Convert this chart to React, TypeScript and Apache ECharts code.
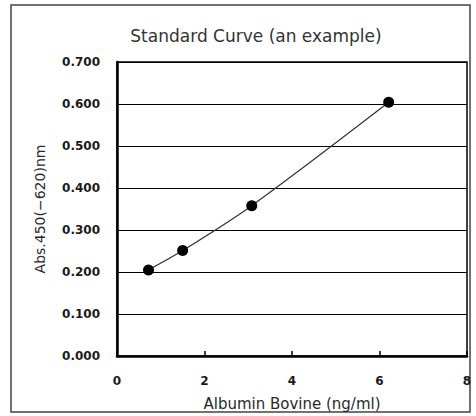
import React, { useEffect, useRef } from "react";
import * as echarts from "echarts";

const concentrations = [0.72, 1.5, 3.08, 6.21];
const absorbance = [0.205, 0.251, 0.358, 0.604];
const titleText = "Standard Curve (an example)";
const xName = "Albumin Bovine (ng/ml)";
const yName = "Abs.450(\u2212620)nm";

const FONT = "'DejaVu Sans', Verdana, sans-serif";

export default function App() {
  const ref = useRef<HTMLDivElement>(null);
  useEffect(() => {
    document.body.style.margin = "0";
    const chart = echarts.init(ref.current!, null, { renderer: "svg" });
    chart.setOption({
      animation: false,
      backgroundColor: "#ffffff",
      title: {
        text: titleText,
        left: 251,
        top: 22,
        textAlign: "center",
        textStyle: { fontFamily: FONT, fontSize: 17, fontWeight: "normal", color: "#333" },
      },
      graphic: [
        {
          type: "rect",
          shape: { x: 11, y: 5, width: 459, height: 407 },
          style: { fill: "none", stroke: "#444", lineWidth: 1.5 },
          silent: true,
        },
      ],
      grid: {
        left: 117,
        right: 9,
        top: 62,
        bottom: 59,
        show: true,
        borderColor: "#000",
        borderWidth: 1.5,
        backgroundColor: "transparent",
      },
      xAxis: {
        type: "value",
        min: 0,
        max: 8,
        interval: 2,
        name: xName,
        nameLocation: "middle",
        nameGap: 40,
        nameTextStyle: { fontFamily: FONT, fontSize: 15, color: "#2a2a2a" },
        axisLine: { show: true, onZero: false, lineStyle: { color: "#000", width: 2.5 } },
        axisTick: { show: true, inside: true, length: 5, lineStyle: { color: "#000", width: 1.5 } },
        axisLabel: { margin: 19, fontFamily: FONT, fontSize: 12, fontWeight: "bold", color: "#1a1a1a" },
        splitLine: { show: false },
      },
      yAxis: {
        type: "value",
        min: 0,
        max: 0.7,
        interval: 0.1,
        name: yName,
        nameLocation: "middle",
        nameGap: 70,
        nameRotate: 90,
        nameTextStyle: { fontFamily: FONT, fontSize: 14, color: "#2a2a2a" },
        axisLine: { show: true, lineStyle: { color: "#000", width: 2.5 } },
        axisTick: { show: false },
        axisLabel: {
          margin: 17,
          fontFamily: FONT,
          fontSize: 12,
          fontWeight: "bold",
          color: "#1a1a1a",
          formatter: (v: number) => v.toFixed(3),
        },
        splitLine: { show: true, lineStyle: { color: "#000", width: 1.2 } },
      },
      series: [
        {
          type: "line",
          data: concentrations.map((x, i) => [x, absorbance[i]]),
          smooth: 0.3,
          symbol: "circle",
          symbolSize: 11,
          itemStyle: { color: "#000" },
          lineStyle: { color: "#333", width: 1.2 },
        },
      ],
    });
    return () => chart.dispose();
  }, []);
  return <div ref={ref} style={{ width: 476, height: 416 }} />;
}
